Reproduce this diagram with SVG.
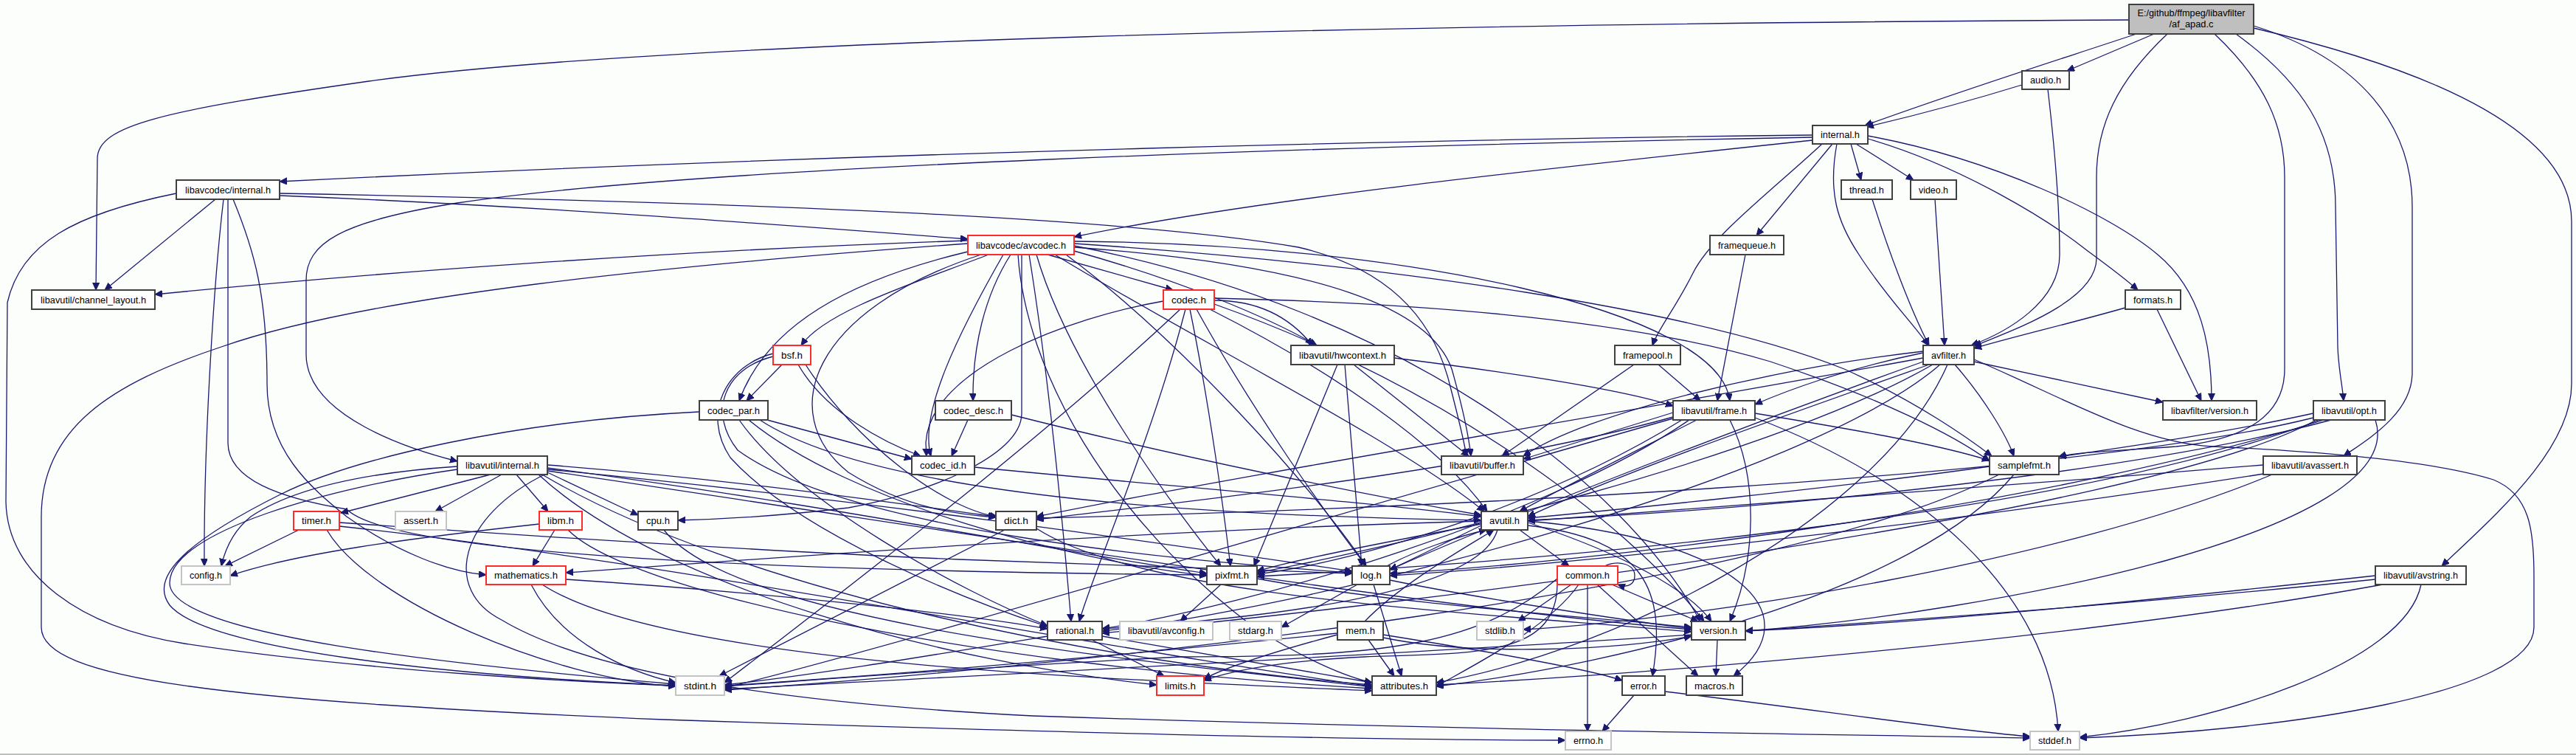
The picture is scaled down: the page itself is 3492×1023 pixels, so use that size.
<svg xmlns="http://www.w3.org/2000/svg" width="3492" height="1023" viewBox="0 0 3492 1023">
<style>
.k rect{fill:#fff;stroke:#404040;stroke-width:2}
.r rect{fill:#fff;stroke:#ff2a2a;stroke-width:2}
.g rect{fill:#fff;stroke:#c4c4c4;stroke-width:2}
.root rect{fill:#bfbfbf;stroke:#404040;stroke-width:2}
text{font-family:"Liberation Sans",Arial,sans-serif;font-size:12px;fill:#000;text-anchor:middle}
#edges path{fill:none;stroke:#191970;stroke-width:1.3;marker-end:url(#arr)}
</style>
<defs>
<marker id="arr" markerWidth="12" markerHeight="10" refX="10" refY="4.5" orient="auto" markerUnits="userSpaceOnUse">
<path d="M0,0 L10,4.5 L0,9 z" fill="#191970" stroke="#191970" stroke-width="1"/>
</marker>
</defs>
<rect x="0" y="0" width="3492" height="1023" fill="#fcfefc"/>
<line x1="0" y1="1022" x2="3492" y2="1022" stroke="#a8a8a8" stroke-width="1.5"/>
<g id="edges">
<path d="M2886,27 C1900,32 900,55 500,110 C220,150 132,170 132,215 L130,393"/>
<path d="M2920,46 L2802,96"/>
<path d="M2896,46 C2800,78 2660,122 2528,170"/>
<path d="M2938,46 C2870,110 2842,170 2842,240 L2842,350 C2842,410 2720,450 2676,469"/>
<path d="M3002,46 C3070,110 3097,170 3097,240 L3097,500 C3097,560 3050,595 2950,605 C2850,612 2810,613 2791,619"/>
<path d="M3031,46 C3120,110 3166,180 3166,280 L3169,470 C3170,500 3175,520 3177,543"/>
<path d="M3055,35 C3200,80 3270,170 3270,280 L3270,505 C3270,560 3210,595 3177,618"/>
<path d="M3055,38 C3360,110 3486,200 3486,300 L3486,520 C3486,610 3380,700 3310,767"/>
<path d="M2741,115 C2660,140 2590,158 2530,172"/>
<path d="M2776,121 C2790,240 2792,300 2792,345 C2792,410 2720,450 2672,468"/>
<path d="M2457,183 C2000,188 1200,205 379,246"/>
<path d="M2457,186 C1800,198 950,225 620,275 C460,300 415,330 415,380 L415,480 C415,565 560,610 620,625"/>
<path d="M2457,190 C2100,228 1700,270 1456,321"/>
<path d="M2484,195 L2381,319"/>
<path d="M2470,195 C2400,260 2320,320 2295,370 C2270,420 2248,445 2240,468"/>
<path d="M2490,195 C2478,260 2490,300 2520,345 C2555,400 2595,440 2614,468"/>
<path d="M2509,195 L2523,244"/>
<path d="M2516,195 L2594,244"/>
<path d="M2532,188 C2660,225 2780,300 2830,340 C2860,362 2886,382 2898,393"/>
<path d="M2532,184 C2700,215 2860,290 2925,345 C2985,395 2998,470 2998,543"/>
<path d="M2538,270 C2560,340 2590,420 2615,468"/>
<path d="M2623,270 L2636,468"/>
<path d="M2881,417 C2800,440 2730,456 2676,472"/>
<path d="M2924,419 L2984,543"/>
<path d="M2366,345 L2328,543"/>
<path d="M2248,494 L2305,543"/>
<path d="M2215,494 L2036,618"/>
<path d="M292,270 L142,393"/>
<path d="M303,270 C290,380 276,600 277,767"/>
<path d="M316,270 C345,340 362,400 362,520 C362,610 420,660 470,700 C540,750 610,775 659,779"/>
<path d="M309,270 L309,600 C309,650 380,675 470,690 C540,760 1200,775 1636,779"/>
<path d="M239,262 C100,290 28,330 10,410 L8,680 C10,780 110,850 250,872 C500,910 800,925 916,929"/>
<path d="M379,265 C700,278 1000,300 1312,324"/>
<path d="M379,262 C900,272 1500,290 1760,335 C1890,365 1945,440 1965,520 C1978,570 1985,600 1988,618"/>
<path d="M1312,326 C900,340 500,370 210,399"/>
<path d="M1312,330 C900,360 500,400 300,470 C150,520 56,580 56,700 L56,850 C56,920 300,950 900,975 C1500,995 1900,1003 2122,1003"/>
<path d="M1456,330 C1900,360 2300,420 2500,500 C2600,545 2670,595 2700,618"/>
<path d="M1380,345 C1390,500 1500,700 1700,850 C1780,900 1830,918 1860,925"/>
<path d="M1430,345 C1600,450 1900,600 2012,693"/>
<path d="M1456,335 C1800,360 1940,420 1968,500 C1985,560 1992,600 1994,618"/>
<path d="M1385,345 L1385,560 C1385,620 1250,670 1150,688 C1050,700 960,704 919,705"/>
<path d="M1330,345 C1100,420 1050,560 1150,640 C1230,690 1300,697 1350,701"/>
<path d="M1456,327 C1900,330 2330,420 2345,543"/>
<path d="M1456,340 C1600,380 1720,430 1785,468"/>
<path d="M1445,345 C1600,460 1780,660 1852,767"/>
<path d="M1405,345 C1450,500 1600,700 1655,767"/>
<path d="M1395,345 C1420,500 1440,700 1452,842"/>
<path d="M1340,345 C1250,380 1120,420 1086,468"/>
<path d="M1420,345 L1590,393"/>
<path d="M1370,345 C1335,400 1318,470 1319,543"/>
<path d="M1312,341 C1150,380 1040,440 1002,543"/>
<path d="M1360,345 C1300,450 1245,560 1262,618"/>
<path d="M1456,333 C1900,420 2200,650 2305,842"/>
<path d="M1646,407 C1700,407 1745,425 1779,468"/>
<path d="M1577,408 C1450,430 1260,500 1255,600 L1256,618"/>
<path d="M1600,419 C1450,560 1250,720 982,925"/>
<path d="M1607,419 C1560,600 1480,780 1463,842"/>
<path d="M1613,419 C1640,550 1660,700 1668,767"/>
<path d="M1622,419 C1700,560 1800,700 1852,767"/>
<path d="M1640,419 C1800,500 1950,600 2016,693"/>
<path d="M1646,404 C1900,410 2200,430 2400,490 C2550,540 2650,590 2697,625"/>
<path d="M1646,412 C1950,520 2200,700 2310,842"/>
<path d="M1060,494 L1012,543"/>
<path d="M1082,494 C1120,560 1200,600 1248,618"/>
<path d="M1092,494 C1160,600 1280,690 1352,700"/>
<path d="M1048,483 C980,500 960,560 1000,610 C1150,720 1600,760 1833,776"/>
<path d="M1048,479 C985,495 950,560 990,620 C1080,720 1300,810 1420,849"/>
<path d="M948,558 C700,570 480,620 380,670 C260,730 200,780 230,820 C280,880 600,915 916,929"/>
<path d="M1040,569 L1236,622"/>
<path d="M1002,569 C1080,680 1300,800 1420,848"/>
<path d="M1015,569 C1150,680 1450,760 1636,780"/>
<path d="M1030,569 C1200,680 1700,700 2008,705"/>
<path d="M1312,569 L1290,618"/>
<path d="M1371,562 C1600,620 1850,670 2008,698"/>
<path d="M1321,633 C1600,660 1850,680 2008,700"/>
<path d="M1835,494 L1991,618"/>
<path d="M1890,485 C2050,505 2200,528 2268,550"/>
<path d="M1823,494 L1846,767"/>
<path d="M1813,494 L1700,767"/>
<path d="M2268,559 L2065,622"/>
<path d="M2300,569 C2200,620 2100,670 2060,693"/>
<path d="M2268,565 C2000,640 1600,680 1405,704"/>
<path d="M2290,569 C2100,700 1700,820 1494,852"/>
<path d="M2379,560 C2500,580 2620,600 2697,624"/>
<path d="M2280,569 C2100,680 1850,760 1704,778"/>
<path d="M2345,569 C2385,650 2380,760 2345,842"/>
<path d="M2379,566 C2600,650 2780,800 2790,991"/>
<path d="M2268,567 C1800,700 1200,880 982,932"/>
<path d="M2607,478 C2500,500 2420,530 2379,548"/>
<path d="M2607,476 C2400,500 2150,560 2065,618"/>
<path d="M2650,494 C2690,540 2720,590 2730,618"/>
<path d="M2676,490 L2932,545"/>
<path d="M2607,485 C2200,560 1700,640 1405,700"/>
<path d="M2615,494 C2400,570 2200,640 2071,700"/>
<path d="M2607,490 C2300,600 2000,720 1884,772"/>
<path d="M2620,494 C2400,620 1900,740 1704,776"/>
<path d="M2630,494 C2450,650 1800,820 1494,855"/>
<path d="M2640,494 C2550,700 2200,880 1947,925"/>
<path d="M2676,487 C2800,540 2900,600 3000,605 C3150,612 3300,625 3380,650 C3430,670 3435,720 3435,780 L3435,850 C3435,940 3100,990 2819,1000"/>
<path d="M3136,560 C3000,590 2850,610 2791,619"/>
<path d="M3140,569 C2900,700 1900,820 1494,858"/>
<path d="M3160,569 C2900,640 2400,690 2071,705"/>
<path d="M3136,566 C2800,650 1900,690 1405,702"/>
<path d="M3150,569 C2800,680 2200,760 1884,777"/>
<path d="M3145,569 C2800,700 2100,760 1704,781"/>
<path d="M3220,569 C3270,720 2700,830 2366,855"/>
<path d="M3080,643 C2800,760 2300,840 2065,853"/>
<path d="M3068,630 C2700,660 2300,690 2071,706"/>
<path d="M3075,641 C2700,700 2200,760 1884,780"/>
<path d="M3282,792 C3260,900 3000,980 2819,999"/>
<path d="M3220,785 C2500,860 1500,905 982,934"/>
<path d="M3230,792 C2800,870 2200,915 1947,928"/>
<path d="M3220,780 C2900,815 2600,845 2366,855"/>
<path d="M2697,632 C2500,660 2200,690 2071,702"/>
<path d="M2730,643 C2600,800 2200,900 1947,930"/>
<path d="M2710,643 C2400,800 1500,900 982,935"/>
<path d="M665,643 L462,695"/>
<path d="M680,643 L590,693"/>
<path d="M700,643 L743,693"/>
<path d="M742,640 L865,698"/>
<path d="M620,632 C500,640 400,660 340,700 C315,720 305,745 300,767"/>
<path d="M620,636 C450,660 230,720 230,790 C230,860 600,900 916,927"/>
<path d="M742,630 C1000,650 1200,680 1350,700"/>
<path d="M742,634 C1100,680 1450,750 1636,777"/>
<path d="M742,636 C1200,680 1600,740 1833,774"/>
<path d="M742,638 C1300,720 1900,820 2293,853"/>
<path d="M735,643 C1000,800 1500,900 1860,928"/>
<path d="M730,643 C900,800 1300,900 1568,928"/>
<path d="M742,641 C620,700 600,800 680,840 C780,900 1000,950 1400,970 C2000,990 2500,995 2752,1000"/>
<path d="M405,718 L305,767"/>
<path d="M460,708 C700,725 1000,745 1300,758 C1500,766 1700,772 1833,777"/>
<path d="M443,718 C500,815 750,920 916,930"/>
<path d="M460,713 C900,760 1500,880 1860,930"/>
<path d="M731,710 C550,730 400,750 312,780"/>
<path d="M752,718 L722,767"/>
<path d="M770,718 C850,800 1300,900 1860,933"/>
<path d="M720,792 C760,870 850,910 916,925"/>
<path d="M735,792 C900,900 1500,920 1860,936"/>
<path d="M767,785 C1000,800 1300,830 1420,852"/>
<path d="M900,718 C1000,850 1600,900 1860,931"/>
<path d="M1362,718 L975,916"/>
<path d="M1405,716 C1550,810 2000,830 2293,856"/>
<path d="M2060,718 L2127,767"/>
<path d="M2071,712 C2230,730 2260,800 2240,916"/>
<path d="M2071,708 C2200,750 2290,800 2320,842"/>
<path d="M2071,706 C2350,730 2460,830 2350,916"/>
<path d="M2008,706 C1500,720 1000,760 767,776"/>
<path d="M2008,712 C1950,740 1910,760 1884,772"/>
<path d="M2008,710 C1850,740 1750,760 1704,774"/>
<path d="M2030,718 C2000,820 1600,845 1494,852"/>
<path d="M1880,767 C1920,745 1980,726 2015,718"/>
<path d="M1840,792 L1737,850"/>
<path d="M1862,792 L1900,916"/>
<path d="M1884,786 C2000,810 2200,840 2293,852"/>
<path d="M1655,792 L1600,842"/>
<path d="M1704,784 C1900,820 2150,835 2293,850"/>
<path d="M1420,862 C1250,890 1100,915 982,928"/>
<path d="M1480,867 L1578,916"/>
<path d="M1494,862 C1650,890 1800,915 1860,925"/>
<path d="M2175,767 C2195,758 2216,765 2216,780 C2216,792 2206,797 2193,792"/>
<path d="M2152,792 L2152,991"/>
<path d="M2130,792 L2058,842"/>
<path d="M2140,792 C2100,850 2000,900 1947,930"/>
<path d="M2165,792 L2302,916"/>
<path d="M2185,792 L2302,842"/>
<path d="M2111,792 C2110,890 2000,885 1850,890 C1750,895 1680,905 1632,922"/>
<path d="M2111,784 C2000,880 1850,890 1600,890 C1300,905 1100,922 982,930"/>
<path d="M1850,842 C1900,790 1990,740 2025,718"/>
<path d="M1855,867 L1890,916"/>
<path d="M1875,860 C2000,880 2150,905 2199,922"/>
<path d="M1813,860 C1720,885 1660,905 1632,920"/>
<path d="M1813,858 C1500,890 1200,915 982,929"/>
<path d="M1875,864 C2000,890 2200,880 2293,862"/>
<path d="M2215,942 L2172,991"/>
<path d="M2257,937 C2450,960 2650,990 2752,998"/>
<path d="M2328,867 L2326,916"/>
</g>
<g id="n_apad" class="root"><rect x="2886" y="6" width="169" height="40"/><text x="2970.5" y="22" textLength="146" lengthAdjust="spacingAndGlyphs">E:/github/ffmpeg/libavfilter</text><text x="2970.5" y="37" textLength="60" lengthAdjust="spacingAndGlyphs">/af_apad.c</text></g>
<g id="n_audio" class="k"><rect x="2741" y="96" width="64" height="25"/><text x="2773" y="113" textLength="42" lengthAdjust="spacingAndGlyphs">audio.h</text></g>
<g id="n_internal" class="k"><rect x="2457" y="170" width="75" height="25"/><text x="2494.5" y="187" textLength="53" lengthAdjust="spacingAndGlyphs">internal.h</text></g>
<g id="n_lavc_internal" class="k"><rect x="239" y="244" width="140" height="26"/><text x="309" y="261.5" textLength="116" lengthAdjust="spacingAndGlyphs">libavcodec/internal.h</text></g>
<g id="n_thread" class="k"><rect x="2496" y="244" width="69" height="26"/><text x="2530.5" y="261.5" textLength="47" lengthAdjust="spacingAndGlyphs">thread.h</text></g>
<g id="n_video" class="k"><rect x="2590" y="244" width="62" height="26"/><text x="2621" y="261.5" textLength="40" lengthAdjust="spacingAndGlyphs">video.h</text></g>
<g id="n_avcodec" class="r"><rect x="1312" y="319" width="144" height="26"/><text x="1384" y="336.5" textLength="122" lengthAdjust="spacingAndGlyphs">libavcodec/avcodec.h</text></g>
<g id="n_framequeue" class="k"><rect x="2318" y="319" width="100" height="26"/><text x="2368" y="336.5" textLength="78" lengthAdjust="spacingAndGlyphs">framequeue.h</text></g>
<g id="n_channel_layout" class="k"><rect x="43" y="393" width="167" height="26"/><text x="126.5" y="410.5" textLength="143" lengthAdjust="spacingAndGlyphs">libavutil/channel_layout.h</text></g>
<g id="n_codec" class="r"><rect x="1577" y="393" width="69" height="26"/><text x="1611.5" y="410.5" textLength="47" lengthAdjust="spacingAndGlyphs">codec.h</text></g>
<g id="n_formats" class="k"><rect x="2881" y="393" width="75" height="26"/><text x="2918.5" y="410.5" textLength="53" lengthAdjust="spacingAndGlyphs">formats.h</text></g>
<g id="n_bsf" class="r"><rect x="1048" y="468" width="51" height="26"/><text x="1073.5" y="485.5" textLength="29" lengthAdjust="spacingAndGlyphs">bsf.h</text></g>
<g id="n_hwcontext" class="k"><rect x="1750" y="468" width="140" height="26"/><text x="1820" y="485.5" textLength="118" lengthAdjust="spacingAndGlyphs">libavutil/hwcontext.h</text></g>
<g id="n_framepool" class="k"><rect x="2189" y="468" width="89" height="26"/><text x="2233.5" y="485.5" textLength="67" lengthAdjust="spacingAndGlyphs">framepool.h</text></g>
<g id="n_avfilter" class="k"><rect x="2607" y="468" width="69" height="26"/><text x="2641.5" y="485.5" textLength="47" lengthAdjust="spacingAndGlyphs">avfilter.h</text></g>
<g id="n_codec_par" class="k"><rect x="948" y="543" width="93" height="26"/><text x="994.5" y="560.5" textLength="71" lengthAdjust="spacingAndGlyphs">codec_par.h</text></g>
<g id="n_codec_desc" class="k"><rect x="1268" y="543" width="103" height="26"/><text x="1319.5" y="560.5" textLength="81" lengthAdjust="spacingAndGlyphs">codec_desc.h</text></g>
<g id="n_frame" class="k"><rect x="2268" y="543" width="111" height="26"/><text x="2323.5" y="560.5" textLength="89" lengthAdjust="spacingAndGlyphs">libavutil/frame.h</text></g>
<g id="n_lavfi_version" class="k"><rect x="2932" y="543" width="127" height="26"/><text x="2995.5" y="560.5" textLength="105" lengthAdjust="spacingAndGlyphs">libavfilter/version.h</text></g>
<g id="n_opt" class="k"><rect x="3136" y="543" width="97" height="26"/><text x="3184.5" y="560.5" textLength="75" lengthAdjust="spacingAndGlyphs">libavutil/opt.h</text></g>
<g id="n_lavu_internal" class="k"><rect x="620" y="618" width="122" height="25"/><text x="681" y="635" textLength="100" lengthAdjust="spacingAndGlyphs">libavutil/internal.h</text></g>
<g id="n_codec_id" class="k"><rect x="1236" y="618" width="85" height="25"/><text x="1278.5" y="635" textLength="63" lengthAdjust="spacingAndGlyphs">codec_id.h</text></g>
<g id="n_buffer" class="k"><rect x="1954" y="618" width="111" height="25"/><text x="2009.5" y="635" textLength="89" lengthAdjust="spacingAndGlyphs">libavutil/buffer.h</text></g>
<g id="n_samplefmt" class="k"><rect x="2697" y="618" width="94" height="25"/><text x="2744" y="635" textLength="72" lengthAdjust="spacingAndGlyphs">samplefmt.h</text></g>
<g id="n_avassert" class="k"><rect x="3068" y="618" width="127" height="25"/><text x="3131.5" y="635" textLength="105" lengthAdjust="spacingAndGlyphs">libavutil/avassert.h</text></g>
<g id="n_timer" class="r"><rect x="398" y="693" width="62" height="25"/><text x="429" y="710" textLength="40" lengthAdjust="spacingAndGlyphs">timer.h</text></g>
<g id="n_assert" class="g"><rect x="536" y="693" width="69" height="25"/><text x="570.5" y="710" textLength="47" lengthAdjust="spacingAndGlyphs">assert.h</text></g>
<g id="n_libm" class="r"><rect x="731" y="693" width="58" height="25"/><text x="760" y="710" textLength="36" lengthAdjust="spacingAndGlyphs">libm.h</text></g>
<g id="n_cpu" class="k"><rect x="865" y="693" width="54" height="25"/><text x="892" y="710" textLength="32" lengthAdjust="spacingAndGlyphs">cpu.h</text></g>
<g id="n_dict" class="k"><rect x="1350" y="693" width="55" height="25"/><text x="1377.5" y="710" textLength="33" lengthAdjust="spacingAndGlyphs">dict.h</text></g>
<g id="n_avutil" class="k"><rect x="2008" y="693" width="63" height="25"/><text x="2039.5" y="710" textLength="41" lengthAdjust="spacingAndGlyphs">avutil.h</text></g>
<g id="n_config" class="g"><rect x="246" y="767" width="66" height="25"/><text x="279" y="784" textLength="44" lengthAdjust="spacingAndGlyphs">config.h</text></g>
<g id="n_mathematics" class="r"><rect x="659" y="767" width="108" height="25"/><text x="713" y="784" textLength="86" lengthAdjust="spacingAndGlyphs">mathematics.h</text></g>
<g id="n_pixfmt" class="k"><rect x="1636" y="767" width="68" height="25"/><text x="1670" y="784" textLength="46" lengthAdjust="spacingAndGlyphs">pixfmt.h</text></g>
<g id="n_log" class="k"><rect x="1833" y="767" width="51" height="25"/><text x="1858.5" y="784" textLength="29" lengthAdjust="spacingAndGlyphs">log.h</text></g>
<g id="n_common" class="r"><rect x="2111" y="767" width="82" height="25"/><text x="2152" y="784" textLength="60" lengthAdjust="spacingAndGlyphs">common.h</text></g>
<g id="n_avstring" class="k"><rect x="3220" y="767" width="123" height="25"/><text x="3281.5" y="784" textLength="101" lengthAdjust="spacingAndGlyphs">libavutil/avstring.h</text></g>
<g id="n_rational" class="k"><rect x="1420" y="842" width="74" height="25"/><text x="1457" y="859" textLength="52" lengthAdjust="spacingAndGlyphs">rational.h</text></g>
<g id="n_avconfig" class="g"><rect x="1518" y="842" width="126" height="25"/><text x="1581" y="859" textLength="104" lengthAdjust="spacingAndGlyphs">libavutil/avconfig.h</text></g>
<g id="n_stdarg" class="g"><rect x="1667" y="842" width="70" height="25"/><text x="1702" y="859" textLength="48" lengthAdjust="spacingAndGlyphs">stdarg.h</text></g>
<g id="n_mem" class="k"><rect x="1813" y="842" width="62" height="25"/><text x="1844" y="859" textLength="40" lengthAdjust="spacingAndGlyphs">mem.h</text></g>
<g id="n_stdlib" class="g"><rect x="2002" y="842" width="63" height="25"/><text x="2033.5" y="859" textLength="41" lengthAdjust="spacingAndGlyphs">stdlib.h</text></g>
<g id="n_version" class="k"><rect x="2293" y="842" width="73" height="25"/><text x="2329.5" y="859" textLength="51" lengthAdjust="spacingAndGlyphs">version.h</text></g>
<g id="n_stdint" class="g"><rect x="916" y="916" width="66" height="26"/><text x="949" y="933.5" textLength="44" lengthAdjust="spacingAndGlyphs">stdint.h</text></g>
<g id="n_limits" class="r"><rect x="1568" y="916" width="64" height="26"/><text x="1600" y="933.5" textLength="42" lengthAdjust="spacingAndGlyphs">limits.h</text></g>
<g id="n_attributes" class="k"><rect x="1860" y="916" width="87" height="26"/><text x="1903.5" y="933.5" textLength="65" lengthAdjust="spacingAndGlyphs">attributes.h</text></g>
<g id="n_error" class="k"><rect x="2199" y="916" width="58" height="26"/><text x="2228" y="933.5" textLength="36" lengthAdjust="spacingAndGlyphs">error.h</text></g>
<g id="n_macros" class="k"><rect x="2286" y="916" width="76" height="26"/><text x="2324" y="933.5" textLength="54" lengthAdjust="spacingAndGlyphs">macros.h</text></g>
<g id="n_errno" class="g"><rect x="2122" y="991" width="62" height="25"/><text x="2153" y="1008" textLength="40" lengthAdjust="spacingAndGlyphs">errno.h</text></g>
<g id="n_stddef" class="g"><rect x="2752" y="991" width="67" height="25"/><text x="2785.5" y="1008" textLength="45" lengthAdjust="spacingAndGlyphs">stddef.h</text></g>
</svg>
